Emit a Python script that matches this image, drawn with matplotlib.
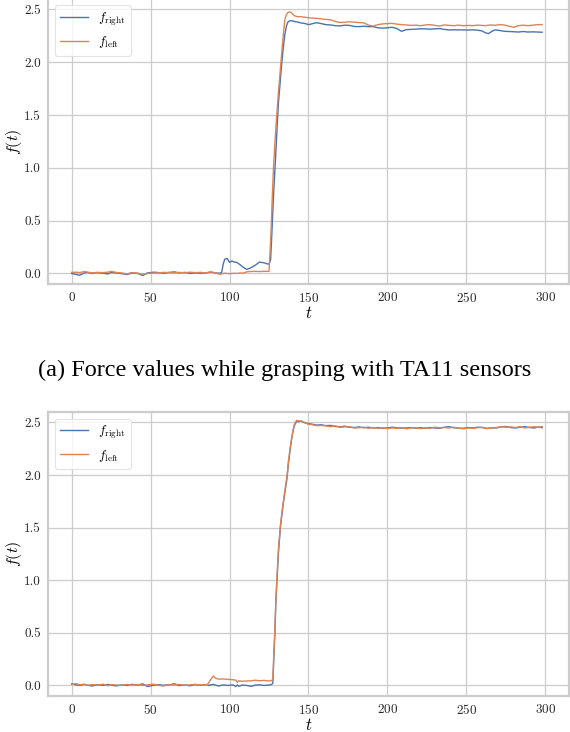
import matplotlib
matplotlib.use("Agg")
import matplotlib.pyplot as plt

# --- data: TA11 sensors (top panel) ---
t_ta11 = [0, 3, 5, 8, 10, 13, 16, 20, 23, 25,
          28, 32, 35, 38, 42, 45, 48, 52, 55, 58,
          62, 65, 68, 72, 75, 78, 82, 85, 88, 91,
          94,
          95, 96, 97, 98.5, 100, 101.5, 103, 104.5, 106.5, 108.5,
          111, 113, 116, 119, 122,
          124, 125, 126, 126.5, 127, 127.5, 128, 128.5, 129, 130,
          131, 132, 133, 134, 135, 136, 137, 138, 139, 140,
          141, 143,
          145, 148, 150, 152, 155, 158, 161, 164, 167, 170,
          173, 176, 179, 182, 185, 188, 191, 194, 197, 200,
          203, 206, 209, 212, 215, 218, 221, 224, 227, 230,
          233, 236, 239, 242, 245, 248, 251, 254, 257, 260,
          262, 264, 266, 268, 271, 274, 277, 280, 283, 286,
          289, 292, 295, 298]
right_ta11 = [0.0, -0.01, -0.018, 0.005, 0.01, 0.0, 0.008, 0.002, -0.005, 0.01,
              0.005, -0.002, -0.01, 0.003, 0.0, -0.02, 0.005, 0.012, 0.008, 0.002,
              0.01, 0.015, 0.005, 0.01, 0.0, 0.005, 0.002, 0.006, 0.012, 0.005,
              0.002,
              0.01, 0.09, 0.135, 0.142, 0.105, 0.118, 0.108, 0.105, 0.085, 0.06,
              0.038, 0.05, 0.075, 0.108, 0.1,
              0.09, 0.088, 0.13, 0.28, 0.45, 0.62, 0.78, 0.92, 1.05, 1.35,
              1.62, 1.80, 1.98, 2.13, 2.26, 2.34, 2.38, 2.39, 2.393, 2.39,
              2.385, 2.38,
              2.372, 2.365, 2.355, 2.362, 2.374, 2.365, 2.355, 2.352, 2.345, 2.343,
              2.35, 2.348, 2.338, 2.336, 2.34, 2.336, 2.336, 2.325, 2.322, 2.325,
              2.33, 2.318, 2.292, 2.308, 2.31, 2.312, 2.316, 2.315, 2.312, 2.315,
              2.318, 2.31, 2.305, 2.306, 2.305, 2.305, 2.304, 2.306, 2.303, 2.295,
              2.278, 2.27, 2.29, 2.305, 2.3, 2.292, 2.29, 2.288, 2.285, 2.29,
              2.285, 2.287, 2.285, 2.283]
left_ta11 = [0.01, 0.012, 0.008, 0.018, 0.012, 0.005, 0.01, 0.008, 0.012, 0.02,
             0.01, 0.004, -0.005, 0.008, 0.002, -0.008, 0.0, 0.004, 0.006, 0.01,
             0.008, 0.004, 0.01, 0.006, 0.012, 0.008, 0.01, 0.004, 0.015, 0.006,
             -0.008,
             -0.005, 0.0, 0.002, 0.0, -0.002, 0.0, 0.002, 0.0, 0.004, 0.003,
             0.015, 0.018, 0.02, 0.018, 0.02,
             0.02, 0.02, 0.30, 0.48, 0.70, 0.88, 1.05, 1.18, 1.30, 1.52,
             1.72, 1.90, 2.08, 2.25, 2.40, 2.45, 2.47, 2.475, 2.47, 2.455,
             2.44, 2.43,
             2.43, 2.425, 2.42, 2.418, 2.415, 2.41, 2.405, 2.40, 2.385, 2.375,
             2.378, 2.382, 2.378, 2.375, 2.372, 2.35, 2.342, 2.355, 2.362, 2.365,
             2.367, 2.36, 2.355, 2.352, 2.348, 2.35, 2.345, 2.352, 2.355, 2.348,
             2.342, 2.352, 2.348, 2.345, 2.35, 2.345, 2.348, 2.345, 2.35, 2.348,
             2.345, 2.35, 2.352, 2.348, 2.355, 2.352, 2.34, 2.33, 2.345, 2.35,
             2.345, 2.35, 2.355, 2.355]

# --- data: second sensor pair (bottom panel) ---
t_b = [0, 3, 5, 8, 10, 13, 16, 20, 23, 25,
       28, 32, 35, 38, 42, 45, 48, 52, 55, 58,
       62, 65, 68, 72, 75, 78, 82, 85,
       86, 87, 88, 89.7, 91, 93, 96, 99, 102, 104,
       105, 106, 108, 111, 114, 116, 119, 122, 125, 126.5,
       127.4,
       128, 128.7, 129.3, 130, 131, 132.2, 133.2, 134.3, 135.3, 136.4,
       137.3, 138.3, 139.2, 140, 141, 142.5, 144, 145.5,
       147, 149.5, 152, 155, 158, 161, 164, 167, 170, 173,
       176, 179, 182, 185, 188, 191, 194, 197, 200, 203,
       206, 209, 212, 215, 218, 221, 224, 227, 230, 233,
       236, 239, 242, 245, 248, 251, 254, 257, 260, 263,
       266, 269, 272, 275, 278, 281, 284, 287, 290, 293,
       296, 298]
right_b = [0.015, 0.005, 0.0, 0.01, 0.003, -0.005, 0.008, 0.002, 0.01, 0.004,
           -0.004, 0.006, 0.0, 0.01, 0.004, 0.015, -0.01, 0.003, 0.008, 0.002,
           0.006, 0.016, 0.0, 0.004, -0.002, 0.008, 0.003, 0.006,
           0.008, 0.0, 0.005, 0.01, 0.004, -0.005, 0.005, 0.0, 0.006, -0.01,
           0.005, -0.008, 0.004, 0.0, -0.008, 0.003, 0.006, 0.0, 0.004, 0.008,
           0.02,
           0.24, 0.49, 0.77, 0.99, 1.27, 1.5, 1.63, 1.76, 1.86, 1.97,
           2.11, 2.23, 2.33, 2.40, 2.47, 2.512, 2.508, 2.515,
           2.50, 2.49, 2.485, 2.475, 2.478, 2.47, 2.472, 2.462, 2.458, 2.465,
           2.455, 2.452, 2.458, 2.45, 2.455, 2.448, 2.452, 2.445, 2.448, 2.455,
           2.45, 2.446, 2.448, 2.452, 2.445, 2.45, 2.445, 2.452, 2.448, 2.445,
           2.455, 2.46, 2.45, 2.447, 2.445, 2.452, 2.448, 2.455, 2.452, 2.444,
           2.45, 2.448, 2.458, 2.462, 2.452, 2.448, 2.455, 2.46, 2.452, 2.448,
           2.458, 2.45]
left_b = [0.01, 0.018, 0.006, 0.012, 0.0, 0.008, 0.004, 0.012, -0.002, 0.008,
          0.005, 0.0, 0.01, 0.004, 0.008, 0.0, 0.006, 0.012, 0.002, -0.005,
          0.008, 0.004, 0.01, 0.0, 0.006, 0.01, 0.004, 0.008,
          0.01, 0.03, 0.055, 0.09, 0.07, 0.06, 0.062, 0.058, 0.055, 0.05,
          0.03, 0.045, 0.04, 0.042, 0.045, 0.05, 0.045, 0.048, 0.043, 0.045,
          0.06,
          0.28, 0.53, 0.8, 1.02, 1.3, 1.52, 1.65, 1.77, 1.88, 1.99,
          2.13, 2.25, 2.34, 2.41, 2.48, 2.52, 2.515, 2.51,
          2.505, 2.485, 2.48, 2.47, 2.472, 2.468, 2.46, 2.468, 2.455, 2.458,
          2.46, 2.448, 2.45, 2.455, 2.445, 2.452, 2.445, 2.45, 2.442, 2.448,
          2.445, 2.452, 2.44, 2.448, 2.45, 2.442, 2.448, 2.445, 2.455, 2.45,
          2.452, 2.448, 2.455, 2.445, 2.44, 2.448, 2.445, 2.45, 2.455, 2.442,
          2.448, 2.452, 2.46, 2.455, 2.458, 2.452, 2.46, 2.448, 2.455, 2.46,
          2.452, 2.462]

caption_a = "(a) Force values while grasping with TA11 sensors"
blue = "#4C72B0"
orange = "#DD8452"

plt.rcParams["font.family"] = "serif"
plt.rcParams["font.serif"] = ["cmr10"]
plt.rcParams["mathtext.fontset"] = "cm"
plt.rcParams["axes.formatter.use_mathtext"] = True

fig = plt.figure(figsize=(5.7, 7.32), dpi=100)
# top panel runs a hair past the top edge, so its top spine is clipped as in the reference
ax1 = fig.add_axes([0.0842, 0.612, 0.914, 0.3897])
ax2 = fig.add_axes([0.0842, 0.0492, 0.914, 0.3880])

panels = [(ax1, t_ta11, right_ta11, left_ta11), (ax2, t_b, right_b, left_b)]
for ax, t, fr, fl in panels:
    ax.plot(t, fr, color=blue, lw=1.0, label=r"$f_{\mathrm{right}}$")
    ax.plot(t, fl, color=orange, lw=1.0, label=r"$f_{\mathrm{left}}$")
    ax.set_xlim(-15, 315)
    ax.set_ylim(-0.1, 2.6)
    ax.set_xticks([0, 50, 100, 150, 200, 250, 300])
    ax.set_yticks([0.0, 0.5, 1.0, 1.5, 2.0, 2.5])
    ax.set_yticklabels(["0.0", "0.5", "1.0", "1.5", "2.0", "2.5"])
    ax.grid(True, color="#cccccc", lw=0.9)
    ax.set_axisbelow(True)
    for s in ax.spines.values():
        s.set_color("#cccccc")
        s.set_linewidth(1.6)
    ax.tick_params(length=0, labelsize=9.5, pad=5, colors="#262626")
    ax.set_xlabel(r"$t$", fontsize=12, labelpad=0)
    ax.set_ylabel(r"$f(t)$", fontsize=11.5)
    ax.yaxis.set_label_coords(-0.047, 0.5)
    leg = ax.legend(loc="upper left", fontsize=9.5, frameon=True, fancybox=True,
                    borderaxespad=0.5, handlelength=2.1, labelspacing=0.5)
    leg.get_frame().set_edgecolor("#dddddd")
    leg.get_frame().set_linewidth(0.8)

fig.text(0.5, 1 - 370 / 732, caption_a, ha="center", va="center",
         family="Liberation Serif", fontsize=17.5)

fig.savefig("out.png", dpi=100)
